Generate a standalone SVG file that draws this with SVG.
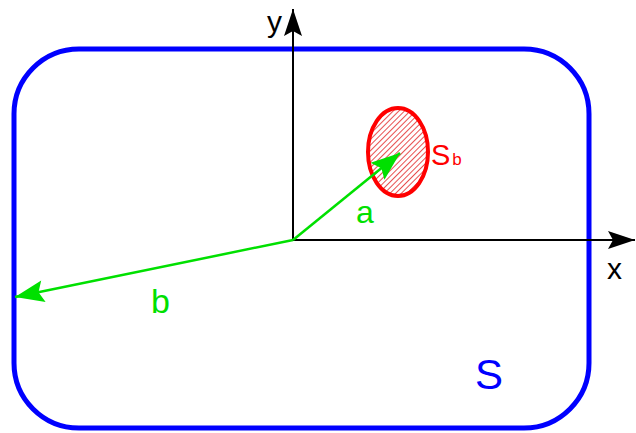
<svg xmlns="http://www.w3.org/2000/svg" width="636" height="433" viewBox="0 0 636 433">
<style>
.t{font-family:"Liberation Sans",Arial,sans-serif}
.axis{stroke:#000;stroke-width:2;fill:none}
.vec{stroke:#00e000;stroke-width:2.5;fill:none}
</style>
<defs>
<pattern id="hatch" patternUnits="userSpaceOnUse" width="4" height="4" patternTransform="rotate(45)">
<rect width="4" height="4" fill="#fff"/>
<line x1="0" y1="0" x2="0" y2="4" stroke="#e85050" stroke-width="2"/>
</pattern>
<marker id="ka" markerWidth="32" markerHeight="20" refX="28" refY="9" orient="auto" markerUnits="userSpaceOnUse">
<path d="M28,9 L1,0 L6,9 L1,18 Z" fill="#000"/>
</marker>
<marker id="ga" markerWidth="34" markerHeight="26" refX="30" refY="11" orient="auto" markerUnits="userSpaceOnUse">
<path d="M30,11 L1,0 L6,11 L1,22 Z" fill="#00e000"/>
</marker>
</defs>
<g id="region-S">
<rect x="14" y="49" width="575" height="379" rx="65" ry="65" fill="none" stroke="#0000ff" stroke-width="5"/>
<text class="t" x="475" y="389" font-size="42" fill="#0000ff">S</text>
</g>
<g id="region-Sb">
<ellipse cx="398" cy="152" rx="30" ry="44" fill="url(#hatch)" stroke="#ff0000" stroke-width="4"/>
<text class="t" x="431" y="165" font-size="29" fill="#ff0000">S<tspan font-size="17" dx="2">b</tspan></text>
</g>
<g id="connectors">
<line class="axis" x1="293" y1="240" x2="293" y2="9" marker-end="url(#ka)"/>
<line class="axis" x1="293" y1="240" x2="635" y2="240" marker-end="url(#ka)"/>
<line class="vec" x1="293" y1="240" x2="400" y2="153" marker-end="url(#ga)"/>
<line class="vec" x1="293" y1="240" x2="15" y2="297" marker-end="url(#ga)"/>
</g>
<g id="labels">
<text class="t" x="267" y="32" font-size="30" fill="#000">y</text>
<text class="t" x="607" y="279" font-size="30" fill="#000">x</text>
<text class="t" x="356" y="223" font-size="32" fill="#00e000">a</text>
<text class="t" x="151" y="313" font-size="34" fill="#00e000">b</text>
</g>
</svg>
